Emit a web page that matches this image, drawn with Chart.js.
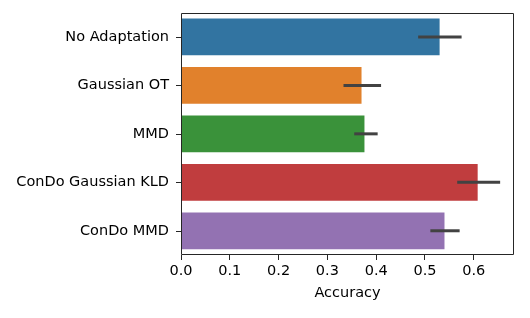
<!DOCTYPE html>
<html><head><meta charset="utf-8">
<script src="https://cdn.jsdelivr.net/npm/chart.js@4/dist/chart.umd.min.js"></script>
<style>html,body{margin:0;padding:0;background:#fff}#w{width:530px;height:318px}</style>
</head><body><div id="w"><canvas id="c" width="530" height="318"></canvas></div>
<script>
const categories = ["No Adaptation", "Gaussian OT", "MMD", "ConDo Gaussian KLD", "ConDo MMD"];
const accuracy = [0.532, 0.372, 0.378, 0.610, 0.542];
const errLow = [0.486, 0.333, 0.355, 0.566, 0.511];
const errHigh = [0.575, 0.410, 0.403, 0.654, 0.571];
const barColors = ["#3274a1", "#e1812c", "#3a923a", "#c03d3e", "#9372b2"];
const xTicks = [0, 0.1, 0.2, 0.3, 0.4, 0.5, 0.6];

const FONT = "'DejaVu Sans', sans-serif";

const errorBars = {
  id: 'errorBars',
  afterDraw(chart) {
    const ctx = chart.ctx, xs = chart.scales.x, ys = chart.scales.y;
    const a = chart.chartArea;
    ctx.save();
    ctx.strokeStyle = '#424242';
    ctx.lineWidth = 3;
    ctx.lineCap = 'butt';
    categories.forEach((c, i) => {
      const y = ys.getPixelForValue(i);
      ctx.beginPath();
      ctx.moveTo(xs.getPixelForValue(errLow[i]), y);
      ctx.lineTo(xs.getPixelForValue(errHigh[i]), y);
      ctx.stroke();
    });
    ctx.fillStyle = '#262626';
    categories.forEach((c, i) => {
      const y = Math.round(ys.getPixelForValue(i));
      ctx.fillRect(Math.round(a.left) - 5, y, 5, 1);
    });
    ctx.strokeStyle = '#262626';
    ctx.lineWidth = 1;
    ctx.beginPath();
    ctx.rect(Math.round(a.left) + 0.5, Math.round(a.top) + 0.5, Math.round(a.right - a.left) - 1, Math.round(a.bottom - a.top) - 1);
    ctx.stroke();
    ctx.restore();
  }
};

new Chart(document.getElementById('c'), {
  type: 'bar',
  data: {
    labels: categories,
    datasets: [{
      data: accuracy,
      backgroundColor: barColors,
      borderColor: 'rgba(255,255,255,0.35)',
      borderWidth: 1,
      barPercentage: 0.8,
      categoryPercentage: 1.0
    }]
  },
  options: {
    indexAxis: 'y',
    responsive: false,
    animation: false,
    events: [],
    layout: { padding: { top: 10.3, right: 16, left: 0, bottom: 16 } },
    plugins: { legend: { display: false }, tooltip: { enabled: false } },
    scales: {
      x: {
        min: 0, max: 0.6824,
        afterFit(s) { s.height = 47; },
        afterBuildTicks(s) { s.ticks = xTicks.map(v => ({ value: v })); },
        grid: { drawOnChartArea: false, drawTicks: true, tickLength: 5, color: '#262626', lineWidth: 1 },
        border: { display: false },
        ticks: {
          color: '#000', padding: 3, maxRotation: 0,
          font: { family: FONT, size: 14.5 },
          callback: v => Number(v).toFixed(1)
        },
        title: { display: true, text: 'Accuracy', color: '#000', font: { family: FONT, size: 14.5 }, padding: { top: 2, bottom: 0 } }
      },
      y: {
        afterFit(s) { s.width = 181; },
        grid: { display: false },
        border: { display: false },
        ticks: { color: '#000', padding: 4, font: { family: FONT, size: 14.5 } }
      }
    }
  },
  plugins: [errorBars]
});
</script>
</body></html>
